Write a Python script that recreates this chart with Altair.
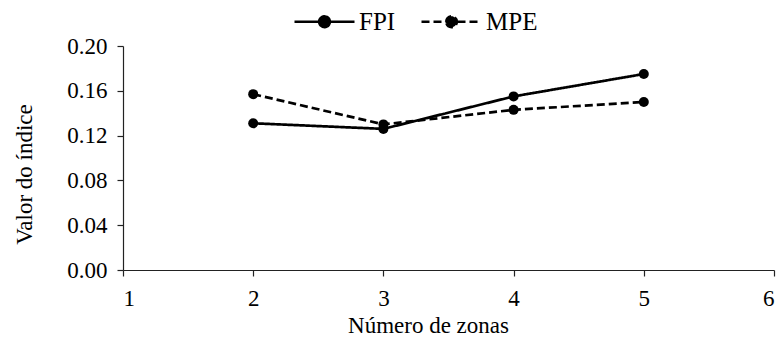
import altair as alt
import pandas as pd

zonas = [2, 3, 4, 5]
fpi = [0.131, 0.126, 0.155, 0.175]
mpe = [0.157, 0.130, 0.143, 0.150]
series = ["FPI", "MPE"]

rows = []
for name, vals in zip(series, [fpi, mpe]):
    for z, v in zip(zonas, vals):
        rows.append({"zonas": z, "valor": v, "serie": name})
df = pd.DataFrame(rows)

FONT = "'Times New Roman', 'Liberation Serif', serif"
sym = "M-1,0H1M-0.18,0A0.18,0.18 0 1,1 0.18,0A0.18,0.18 0 1,1 -0.18,0Z"

x = alt.X("zonas:Q", title="Número de zonas",
          scale=alt.Scale(domain=[1, 6], nice=False),
          axis=alt.Axis(values=[1, 2, 3, 4, 5, 6], format="d", grid=False,
                        tickSize=6, titlePadding=4, labelPadding=11, titleX=305))
y = alt.Y("valor:Q", title="Valor do índice",
          scale=alt.Scale(domain=[0, 0.2], nice=False),
          axis=alt.Axis(values=[0, 0.04, 0.08, 0.12, 0.16, 0.2], format=".2f",
                        grid=False, tickSize=6, titlePadding=30, labelPadding=10,
                        titleY=128))
dash = alt.StrokeDash("serie:N", title=None,
                      scale=alt.Scale(domain=series, range=[[1, 0], [8, 4]]),
                      legend=alt.Legend(orient="none", legendX=170, legendY=-56,
                                        direction="horizontal", symbolType=sym,
                                        symbolSize=3600, symbolStrokeWidth=2.5,
                                        symbolFillColor="black", symbolStrokeColor="black",
                                        labelFont=FONT, labelFontSize=25, labelColor="black",
                                        columnPadding=20, labelOffset=3))

lines = alt.Chart(df).mark_line(color="black", strokeWidth=2.7).encode(x=x, y=y, strokeDash=dash, detail="serie:N")
pts = alt.Chart(df).mark_point(filled=True, color="black", size=100, opacity=1, shape="circle").encode(x=x, y=y, detail="serie:N")

chart = (lines + pts).properties(
    width=651, height=224,
    autosize=alt.AutoSizeParams(type="none"),
    padding={"left": 123, "top": 46, "right": 3, "bottom": 83},
    background="white",
).configure_view(stroke=None).configure_axis(
    labelFont=FONT, titleFont=FONT, labelFontSize=23, titleFontSize=23,
    labelColor="black", titleColor="black", titleFontWeight="normal",
    domainColor="#222", tickColor="#222", domainWidth=1.2, tickWidth=1.2,
)

chart.save("out.html", embed_options={"renderer": "svg", "actions": False})
